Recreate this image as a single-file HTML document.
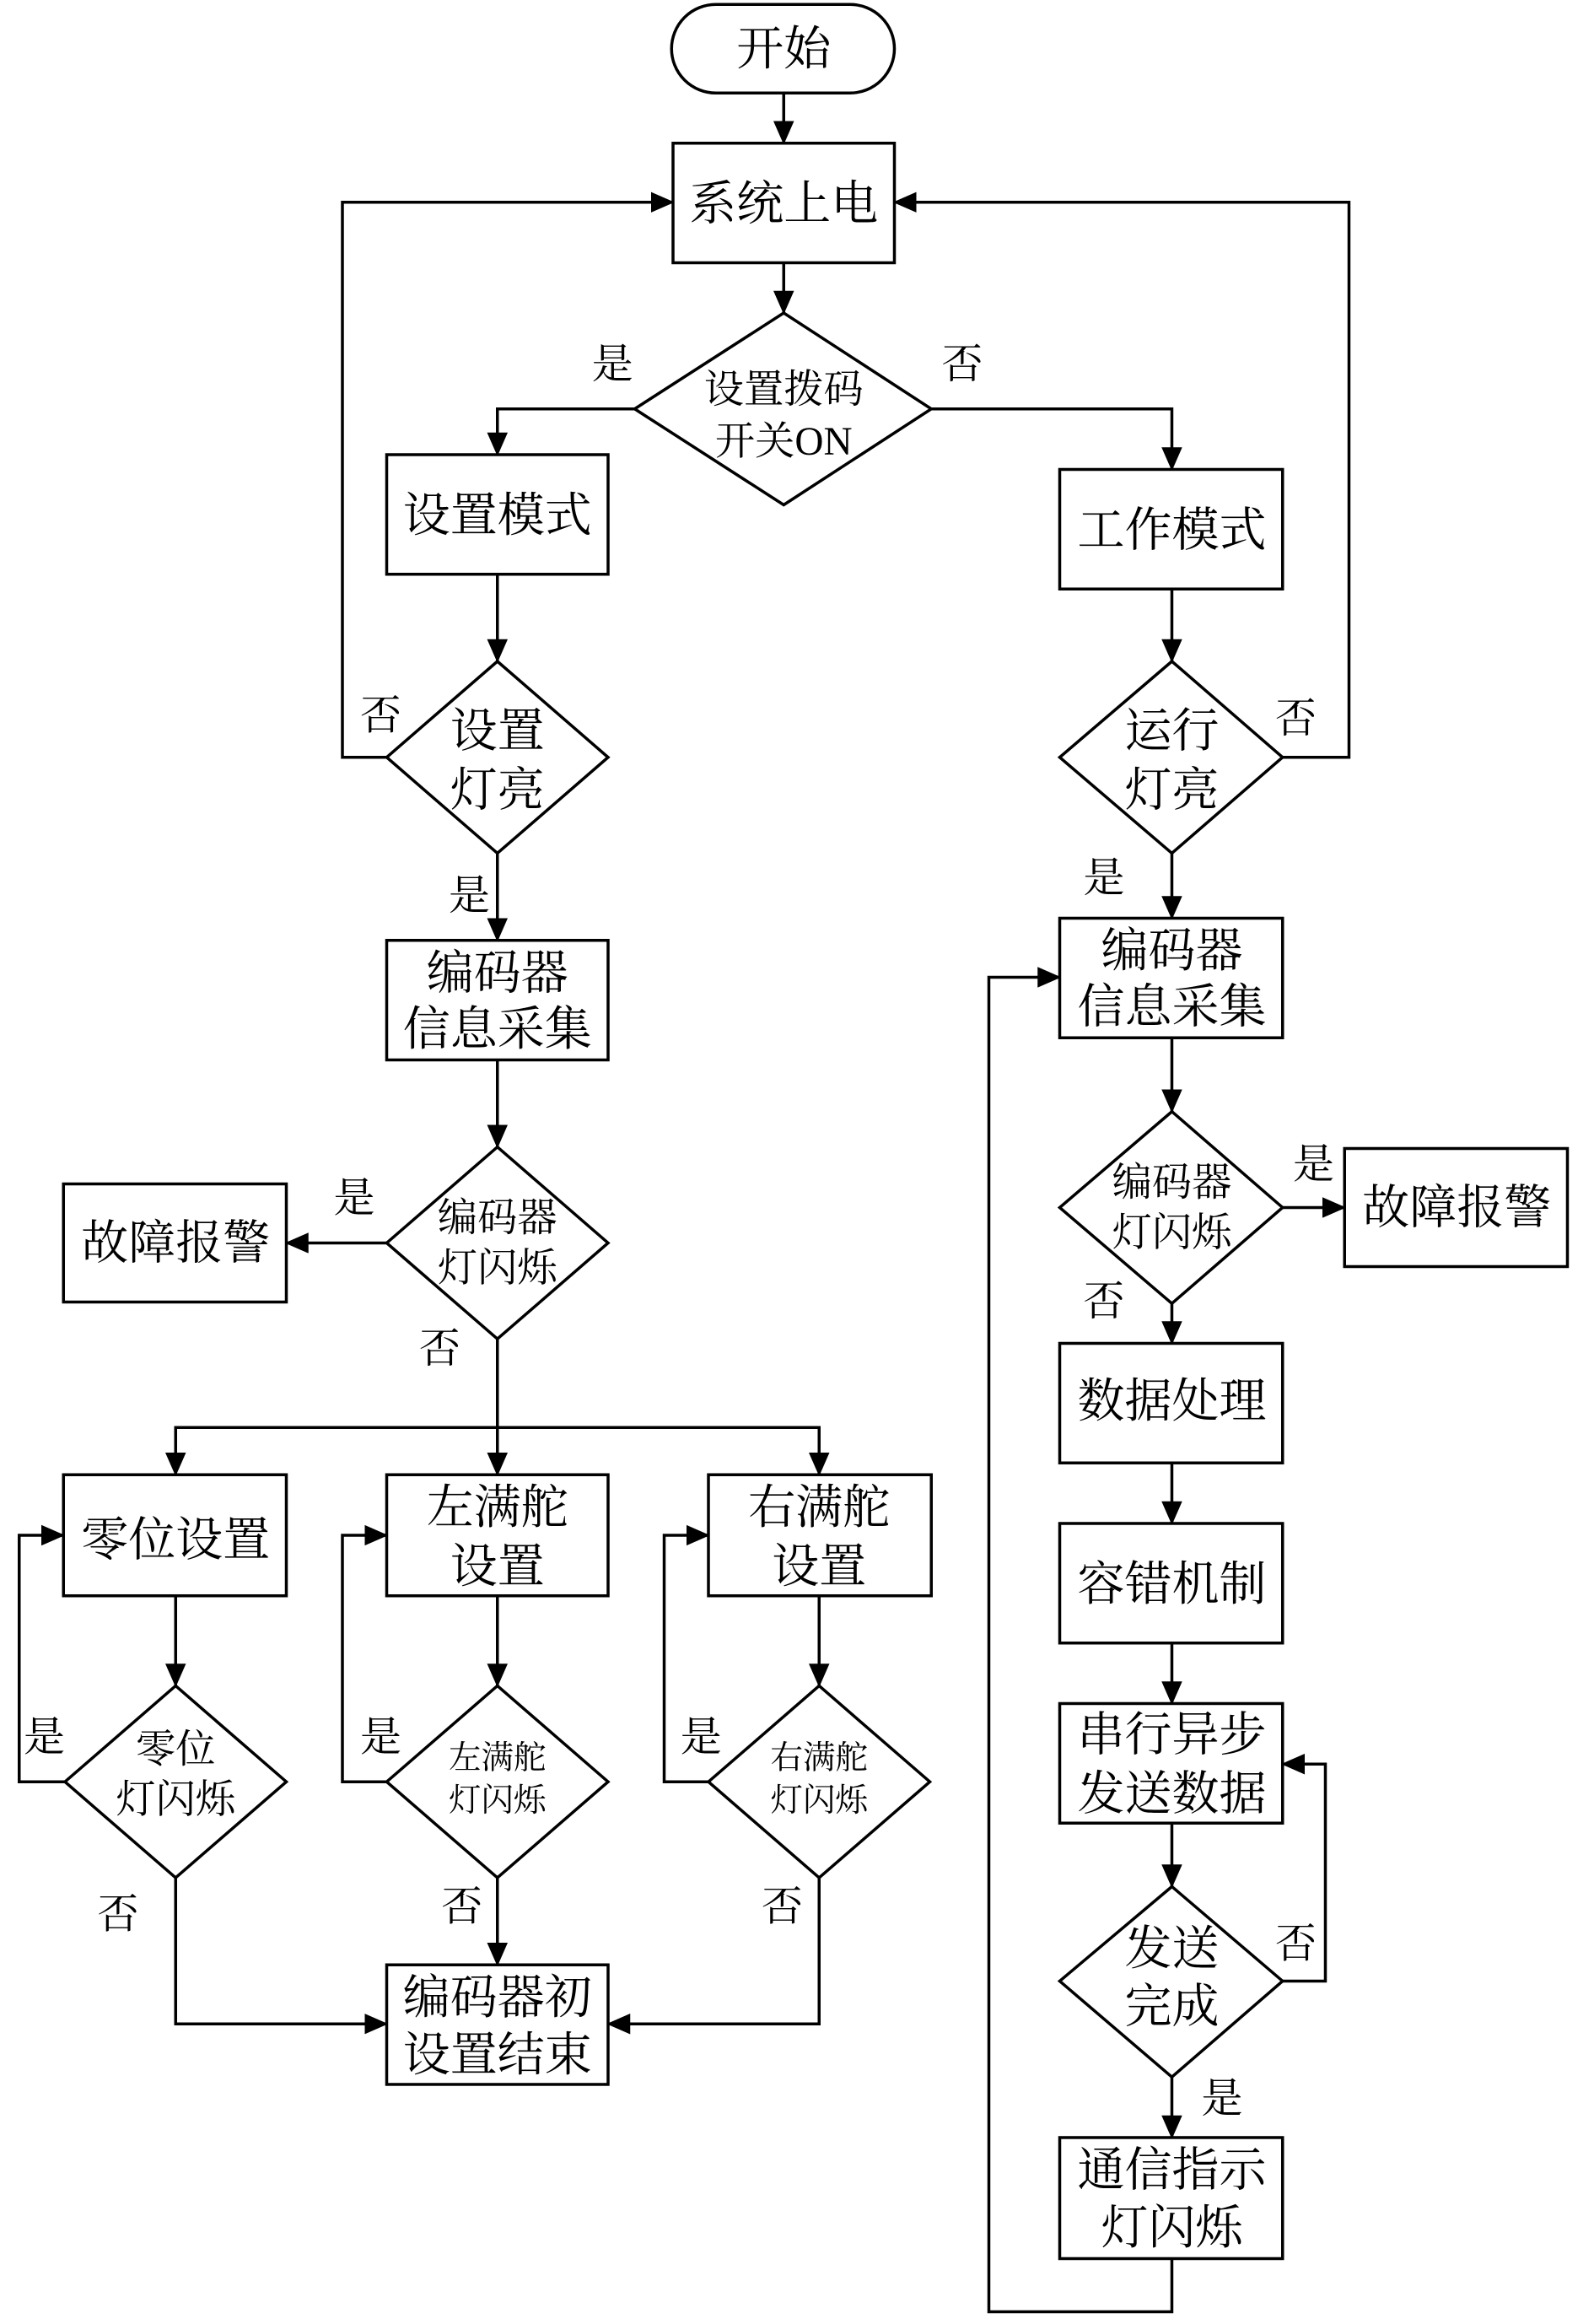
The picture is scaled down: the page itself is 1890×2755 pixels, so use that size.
<!DOCTYPE html>
<html><head><meta charset="utf-8"><style>html,body{margin:0;padding:0;background:#fff}svg{display:block}</style></head><body>
<svg width="1890" height="2755" viewBox="0 0 1080 1574.3" xmlns="http://www.w3.org/2000/svg" font-family="Liberation Serif, Noto Serif CJK SC, serif">
<defs><marker id="a" markerWidth="10" markerHeight="10" refX="9" refY="5" orient="auto" markerUnits="userSpaceOnUse"><path d="M0,0 L10,5 L0,10 z" fill="#000"/></marker>
<marker id="b" markerWidth="16" markerHeight="14" refX="15" refY="7" orient="auto" markerUnits="userSpaceOnUse"><path d="M0,0 L16,7 L0,14 z" fill="#000"/></marker></defs>
<g fill="none" stroke="#000" stroke-width="2">
<rect x="455" y="3" width="151" height="60" rx="30"/>
<rect x="456" y="97" width="150" height="81"/>
<polygon points="531,212 631,277 531,342 430,277"/>
<rect x="262" y="308" width="150" height="81"/>
<rect x="718" y="318" width="151" height="81"/>
<polygon points="337,448 412,513 337,578 262,513"/>
<polygon points="794,448 869,513 794,578 718,513"/>
<rect x="262" y="637" width="150" height="81"/>
<polygon points="337,777 412,842 337,907 262,842"/>
<rect x="43" y="802" width="151" height="80"/>
<rect x="43" y="999" width="151" height="82"/>
<rect x="262" y="999" width="150" height="82"/>
<rect x="480" y="999" width="151" height="82"/>
<polygon points="119,1142 194,1207 119,1272 44,1207"/>
<polygon points="337,1142 412,1207 337,1272 262,1207"/>
<polygon points="555,1142 630,1207 555,1272 480,1207"/>
<rect x="262" y="1331" width="150" height="81"/>
<rect x="718" y="622" width="151" height="81"/>
<polygon points="794,753 869,818 794,883 718,818"/>
<rect x="911" y="778" width="151" height="80"/>
<rect x="718" y="910" width="151" height="81"/>
<rect x="718" y="1032" width="151" height="81"/>
<rect x="718" y="1154" width="151" height="81"/>
<polygon points="794,1278 869,1342 794,1407 718,1342"/>
<rect x="718" y="1448" width="151" height="82"/>
</g>
<g fill="none" stroke="#000" stroke-width="2" marker-end="url(#b)">
<path d="M531,63 V97"/>
<path d="M531,178 V212"/>
<path d="M430,277 H337 V308"/>
<path d="M631,277 H794 V318"/>
<path d="M337,389 V448"/>
<path d="M794,399 V448"/>
<path d="M262,513 H232 V137 H456"/>
<path d="M869,513 H914 V137 H606"/>
<path d="M337,578 V637"/>
<path d="M794,578 V622"/>
<path d="M337,718 V777"/>
<path d="M262,842 H194"/>
<path d="M337,907 V999"/>
<path d="M337,967 H119 V999"/>
<path d="M337,967 H555 V999"/>
<path d="M119,1081 V1142"/>
<path d="M337,1081 V1142"/>
<path d="M555,1081 V1142"/>
<path d="M44,1207 H13 V1040 H43"/>
<path d="M262,1207 H232 V1040 H262"/>
<path d="M480,1207 H450 V1040 H480"/>
<path d="M337,1272 V1331"/>
<path d="M119,1272 V1371 H262"/>
<path d="M555,1272 V1371 H412"/>
<path d="M794,703 V753"/>
<path d="M869,818 H911"/>
<path d="M794,883 V910"/>
<path d="M794,991 V1032"/>
<path d="M794,1113 V1154"/>
<path d="M794,1235 V1278"/>
<path d="M869,1342 H898 V1195 H869"/>
<path d="M794,1407 V1448"/>
<path d="M794,1530 V1566 H670 V662 H718"/>
</g>
<g font-size="32" text-anchor="middle" fill="#000">
<text x="531" y="44">开始</text>
<text x="531" y="149">系统上电</text>
<text x="337" y="360">设置模式</text>
<text x="794" y="370">工作模式</text>
<text x="337" y="670">编码器</text><text x="337" y="708">信息采集</text>
<text x="794" y="655">编码器</text><text x="794" y="693">信息采集</text>
<text x="119" y="853">故障报警</text>
<text x="987" y="829">故障报警</text>
<text x="119" y="1054">零位设置</text>
<text x="337" y="1032">左满舵</text><text x="337" y="1072">设置</text>
<text x="555" y="1032">右满舵</text><text x="555" y="1072">设置</text>
<text x="337" y="1364">编码器初</text><text x="337" y="1403">设置结束</text>
<text x="794" y="960">数据处理</text>
<text x="794" y="1084">容错机制</text>
<text x="794" y="1186">串行异步</text><text x="794" y="1226">发送数据</text>
<text x="794" y="1481">通信指示</text><text x="794" y="1520">灯闪烁</text>
<text x="337" y="506">设置</text><text x="337" y="546">灯亮</text>
<text x="794" y="506">运行</text><text x="794" y="546">灯亮</text>
<text x="794" y="1331">发送</text><text x="794" y="1370">完成</text>
</g>
<g font-size="27" text-anchor="middle" fill="#000">
<text x="531" y="273">设置拨码</text><text x="531" y="308">开关ON</text>
<text x="337" y="834">编码器</text><text x="337" y="868">灯闪烁</text>
<text x="794" y="810">编码器</text><text x="794" y="844">灯闪烁</text>
<text x="119" y="1194">零位</text><text x="119" y="1228">灯闪烁</text>
</g>
<g font-size="22" text-anchor="middle" fill="#000">
<text x="337" y="1198">左满舵</text><text x="337" y="1227">灯闪烁</text>
<text x="555" y="1198">右满舵</text><text x="555" y="1227">灯闪烁</text>
</g>
<g font-size="28" text-anchor="middle" fill="#000">
<text x="415" y="256">是</text><text x="652" y="256">否</text>
<text x="258" y="494">否</text><text x="878" y="496">否</text>
<text x="318" y="616">是</text><text x="748" y="604">是</text>
<text x="240" y="821">是</text><text x="298" y="923">否</text>
<text x="890" y="798">是</text><text x="748" y="891">否</text>
<text x="30" y="1186">是</text><text x="258" y="1186">是</text><text x="475" y="1186">是</text>
<text x="80" y="1306">否</text><text x="313" y="1301">否</text><text x="530" y="1301">否</text>
<text x="878" y="1326">否</text><text x="828" y="1431">是</text>
</g>
</svg>
</body></html>
